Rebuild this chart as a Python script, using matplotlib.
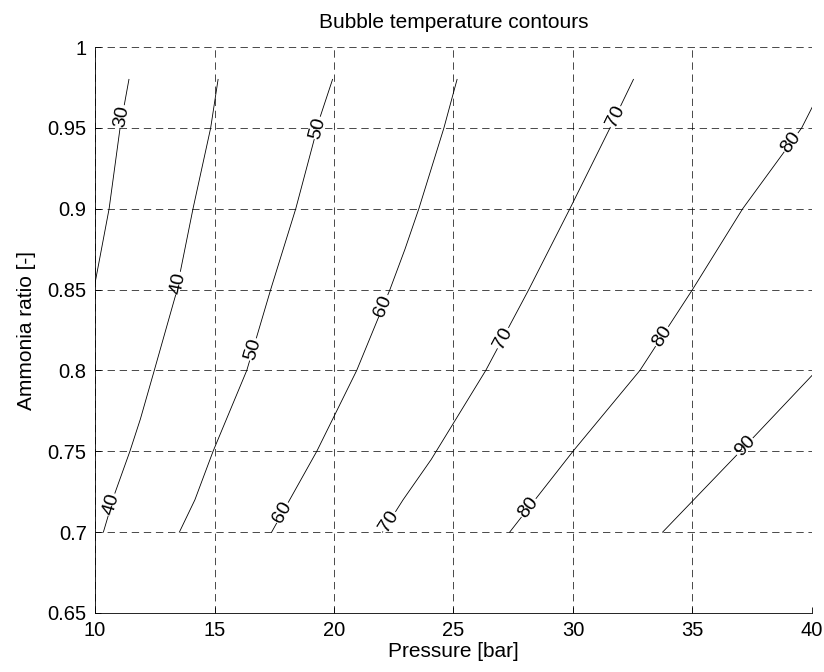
import numpy as np
import matplotlib
matplotlib.use('Agg')
import matplotlib.pyplot as plt

plt.rcParams['font.family'] = ['Liberation Sans', 'DejaVu Sans']
plt.rcParams['lines.scale_dashes'] = False

# isotherm levels (deg C) and where each one crosses the ammonia ratios
levels = [30, 40, 50, 60, 70, 80, 90]

ratios_30 = [0.85, 0.90, 0.95, 0.98]
press_30 = [9.95, 10.59, 11.05, 11.42]

ratios_40 = [0.70, 0.72, 0.75, 0.77, 0.80, 0.85, 0.90, 0.95, 0.98]
press_40 = [10.35, 10.75, 11.46, 11.90, 12.48, 13.42, 14.10, 14.84, 15.15]

ratios_50 = [0.70, 0.72, 0.75, 0.80, 0.85, 0.90, 0.95, 0.98]
press_50 = [13.53, 14.18, 14.94, 16.35, 17.35, 18.40, 19.30, 19.94]

ratios_60 = [0.70, 0.75, 0.80, 0.85, 0.875, 0.90, 0.95, 0.98]
press_60 = [17.39, 19.28, 20.95, 22.34, 22.97, 23.55, 24.60, 25.15]

ratios_70 = [0.70, 0.72, 0.745, 0.80, 0.85, 0.90, 0.95, 0.98]
press_70 = [22.03, 22.89, 24.07, 26.35, 28.15, 29.87, 31.55, 32.53]

ratios_80 = [0.70, 0.75, 0.80, 0.85, 0.90, 0.95, 0.98]
press_80 = [27.35, 30.00, 32.80, 35.00, 37.10, 39.57, 40.60]

ratios_90 = [0.70, 0.75, 0.80]
press_90 = [33.75, 37.00, 40.20]

# ratios where the inline labels sit on each isotherm
labels_at = [
    [0.957],
    [0.717, 0.854],
    [0.813, 0.950],
    [0.712, 0.840],
    [0.7065, 0.820, 0.957],
    [0.715, 0.821, 0.941],
    [0.753],
]

x_ticks = [10, 15, 20, 25, 30, 35, 40]
y_ticks = [0.65, 0.7, 0.75, 0.8, 0.85, 0.9, 0.95, 1]
y_tick_labels = ['0.65', '0.7', '0.75', '0.8', '0.85', '0.9', '0.95', '1']

ratios = [ratios_30, ratios_40, ratios_50, ratios_60, ratios_70, ratios_80, ratios_90]
pressures = [press_30, press_40, press_50, press_60, press_70, press_80, press_90]

fig, ax = plt.subplots(figsize=(8.24, 6.72), dpi=100)
fig.subplots_adjust(left=0.1153, right=0.9854, bottom=0.0878, top=0.930)
ax.set_xlim(10, 40)
ax.set_ylim(0.65, 1)

gap = 12  # half length of the break in the line around a label, pixels
fs = 14.5

for T, R, P, labs in zip(levels, ratios, pressures, labels_at):
    R = np.asarray(R, float)
    P = np.asarray(P, float)
    pts = np.column_stack([P, R])
    disp = ax.transData.transform(pts)
    cuts = []
    for r in labs:
        p = np.interp(r, R, P)
        c = ax.transData.transform((p, r))
        i = int(np.clip(np.searchsorted(R, r), 1, len(R) - 1))
        d = disp[i] - disp[i - 1]
        u = d / np.hypot(*d)
        ang = np.degrees(np.arctan2(u[1], u[0]))
        if ang > 90:
            ang -= 180
        elif ang < -90:
            ang += 180
        ax.text(p, r, str(T), rotation=ang, rotation_mode='anchor',
                ha='center', va='center', fontsize=14)
        inv = ax.transData.inverted()
        lo = inv.transform(c - u * gap)
        hi = inv.transform(c + u * gap)
        cuts.append((lo, hi))
    # split the polyline at the label gaps
    start = None
    rest = pts
    for lo, hi in cuts:
        before = rest[rest[:, 1] < lo[1]]
        seg = before if start is None else np.vstack([start, before])
        seg = np.vstack([seg, lo])
        ax.plot(seg[:, 0], seg[:, 1], color='black', lw=0.6)
        rest = rest[rest[:, 1] > hi[1]]
        start = hi
    seg = rest if start is None else np.vstack([start, rest])
    ax.plot(seg[:, 0], seg[:, 1], color='black', lw=0.6)

ax.set_xticks(x_ticks)
ax.set_yticks(y_ticks)
ax.set_yticklabels(y_tick_labels)
ax.grid(True, color='black', linestyle=(0, (5.3, 3.4)), linewidth=0.5)
ax.set_axisbelow(True)

ax.spines['top'].set_visible(False)
ax.spines['right'].set_visible(False)
ax.spines['left'].set_linewidth(0.6)
ax.spines['bottom'].set_linewidth(0.6)
ax.tick_params(direction='in', length=4, width=0.6, labelsize=fs, pad=6)

ax.set_title('Bubble temperature contours', fontsize=15, pad=14)
ax.set_xlabel('Pressure [bar]', fontsize=15, labelpad=1)
ax.set_ylabel('Ammonia ratio [-]', fontsize=15, labelpad=8)

fig.savefig('out.png', dpi=100)
